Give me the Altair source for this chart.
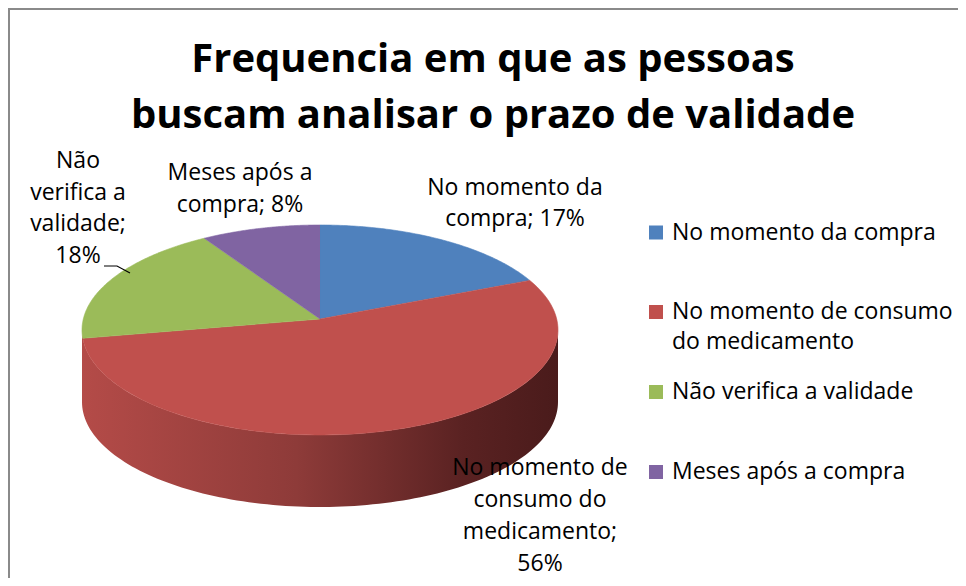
import altair as alt
import pandas as pd
import numpy as np

# ---- data ----
categories = ["No momento da compra", "No momento de consumo do medicamento",
              "Não verifica a validade", "Meses após a compra"]
values = [17, 56, 18, 8]
colors = ["#4F81BD", "#C0504D", "#9BBB59", "#8064A2"]
pie_labels = [["No momento da", "compra; 17%"],
              ["No momento de", "consumo do", "medicamento;", "56%"],
              ["Não", "verifica a", "validade;", "18%"],
              ["Meses após a", "compra; 8%"]]
legend_labels = [["No momento da compra"],
                 ["No momento de consumo", "do medicamento"],
                 ["Não verifica a validade"],
                 ["Meses após a compra"]]
title_lines = ["Frequencia em que as pessoas", "buscam analisar o prazo de validade"]

FONT = "Open Sans"
LBL = 23
W, H = 950, 570
CX, CY, RX, RY, DEPTH = 312, 322, 238, 105, 72
APEX_Y = 311  # perspective: slice apex sits a little above the rim's widest line

xs = alt.X("x:Q", scale=alt.Scale(domain=[0, W], nice=False, zero=False), axis=None)
ys = alt.Y("y:Q", scale=alt.Scale(domain=[0, H], reverse=True, nice=False, zero=False), axis=None)


def ell(t):
    return CX + RX * np.sin(t), CY - RY * np.cos(t)


total = float(sum(values))
cum = np.concatenate([[0], np.cumsum(values)]) / total * 2 * np.pi

layers = []

# side (front rim) of the 3D pie
ts = np.linspace(np.pi / 2, 3 * np.pi / 2, 120)
ux, uy = ell(ts)
side = pd.DataFrame({
    "x": np.concatenate([ux, ux[::-1]]),
    "y": np.concatenate([uy, uy[::-1] + DEPTH]),
})
side["i"] = range(len(side))
grad = alt.Gradient(gradient="linear", x1=0, x2=1, y1=0, y2=0,
                    stops=[alt.GradientStop(color="#b44b48", offset=0),
                           alt.GradientStop(color="#8e3b39", offset=0.45),
                           alt.GradientStop(color="#5a2222", offset=0.8),
                           alt.GradientStop(color="#4a1b1b", offset=1)])
layers.append(alt.Chart(side).mark_line(fill=grad, strokeOpacity=0).encode(
    x=xs, y=ys, order="i:Q"))

# top slices
for k, (cat, col) in enumerate(zip(categories, colors)):
    t = np.linspace(cum[k], cum[k + 1], 100)
    px, py = ell(t)
    df = pd.DataFrame({"x": np.concatenate([[CX], px]),
                       "y": np.concatenate([[APEX_Y], py])})
    df["i"] = range(len(df))
    df["cat"] = cat
    layers.append(alt.Chart(df).mark_line(fill=col, stroke=col, strokeWidth=0.6).encode(
        x=xs, y=ys, order="i:Q"))

# leader line for the 18% label
leader = pd.DataFrame({"x": [96, 109, 122], "y": [258, 258, 265], "i": [0, 1, 2]})
layers.append(alt.Chart(leader).mark_line(color="#000000", strokeWidth=1.2).encode(
    x=xs, y=ys, order="i:Q"))

# pie labels (center x, first baseline, line step)
label_pos = [(507, 187, 31), (532, 467, 32), (70, 160, 31.5), (232, 172, 32)]
for lines, (lx, ly, step) in zip(pie_labels, label_pos):
    for j, ln in enumerate(lines):
        layers.append(alt.Chart(pd.DataFrame({"t": [ln]})).mark_text(
            font=FONT, fontSize=LBL, color="#000000", align="center", baseline="alphabetic"
        ).encode(text="t:N", x=alt.value(lx), y=alt.value(ly + j * step)))

# legend
leg_y = [224.5, 304, 384, 464]
for lines, col, sy in zip(legend_labels, colors, leg_y):
    layers.append(alt.Chart(pd.DataFrame({"c": [col]})).mark_square(
        size=196, color=col, opacity=1).encode(x=alt.value(648), y=alt.value(sy)))
    for j, ln in enumerate(lines):
        layers.append(alt.Chart(pd.DataFrame({"t": [ln]})).mark_text(
            font=FONT, fontSize=LBL, color="#000000", align="left", baseline="alphabetic"
        ).encode(text="t:N", x=alt.value(664), y=alt.value(sy + 7 + j * 30)))

# title
for j, ln in enumerate(title_lines):
    layers.append(alt.Chart(pd.DataFrame({"t": [ln]})).mark_text(
        font=FONT, fontSize=40, fontWeight="bold", color="#000000", align="center",
        baseline="alphabetic"
    ).encode(text="t:N", x=alt.value(485), y=alt.value(64 + j * 56)))

# outer border (top and left)
layers.append(alt.Chart(pd.DataFrame({"a": [0]})).mark_rule(color="#8a8a8a", strokeWidth=2).encode(
    x=alt.value(0), x2=alt.value(W), y=alt.value(1)))
layers.append(alt.Chart(pd.DataFrame({"a": [0]})).mark_rule(color="#8a8a8a", strokeWidth=2).encode(
    y=alt.value(0), y2=alt.value(H), x=alt.value(1)))

chart = alt.layer(*layers).properties(
    width=W, height=H, autosize=alt.AutoSizeParams(type="none"), padding=0
).configure_view(stroke=None).configure(background="white")

chart.save("out.html", embed_options={"renderer": "svg", "actions": False})
